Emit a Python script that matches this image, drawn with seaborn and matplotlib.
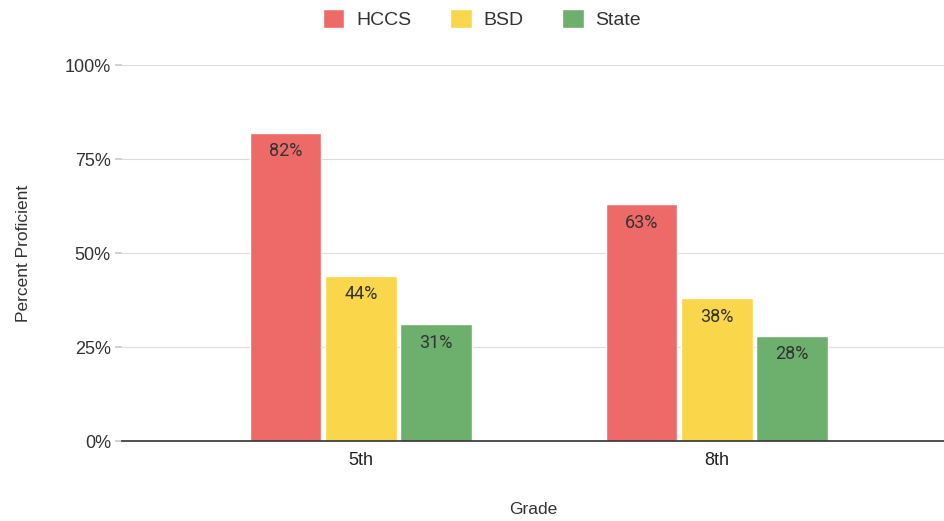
import matplotlib
matplotlib.use("Agg")
import matplotlib.pyplot as plt
import seaborn as sns
import pandas as pd
from matplotlib.ticker import FuncFormatter

grades = ["5th", "8th"]
hccs = [82, 63]
bsd = [44, 38]
state = [31, 28]
series_names = ["HCCS", "BSD", "State"]
yticks = [0, 25, 50, 75, 100]

colors = {"HCCS": "#EE6A69", "BSD": "#F9D64A", "State": "#6DAF6D"}

rows = []
for name, vals in zip(series_names, [hccs, bsd, state]):
    for g, v in zip(grades, vals):
        rows.append({"Grade": g, "Series": name, "Value": v})
df = pd.DataFrame(rows)

sns.set_theme(style="white")
plt.rcParams['font.family'] = ['Liberation Sans', 'DejaVu Sans']

fig = plt.figure(figsize=(9.44, 5.21), dpi=100)
ax = fig.add_axes([122/944, 1-441/521, 1-122/944, (441-65)/521])

sns.barplot(data=df, x="Grade", y="Value", hue="Series", order=grades,
            hue_order=series_names, palette=colors, width=0.634, gap=0.05,
            ax=ax, legend=True, saturation=1)

for cont in ax.containers:
    for bar in cont:
        h = bar.get_height()
        ax.text(bar.get_x() + bar.get_width()/2, h - 2.6, f"{h:.0f}%",
                ha="center", va="top", fontsize=13, color="#333333",
                family=['Roboto', 'DejaVu Sans'])

ax.set_xlim(-0.671, 1.638)
ax.set_ylim(0, 100)
ax.set_yticks(yticks)
ax.yaxis.set_major_formatter(FuncFormatter(lambda v, p: f"{v:.0f}%"))
ax.grid(axis="y", color="#DDDDDD", linewidth=0.8)
ax.set_axisbelow(True)
for s in ["top", "right", "left"]:
    ax.spines[s].set_visible(False)
ax.spines["bottom"].set_color("#333333")
ax.spines["bottom"].set_linewidth(1.2)
ax.tick_params(axis="y", length=5, color="#CCCCCC", labelsize=13, labelcolor="#333333", pad=3, left=True)
ax.tick_params(axis="x", length=0, labelsize=13, labelcolor="#222222", pad=8)
ax.set_ylabel("Percent Proficient", fontsize=12.5, color="#333333", labelpad=24)
ax.set_xlabel("Grade", fontsize=12.5, color="#333333", labelpad=24)

ax.get_legend().remove()
handles, labels = ax.get_legend_handles_labels()
leg = fig.legend(handles, labels, loc="center", bbox_to_anchor=(482/944, 1-19/521),
                 ncol=3, frameon=False, fontsize=14, handlelength=1.1, handleheight=1.1,
                 columnspacing=2.0, handletextpad=0.6)
for t in leg.get_texts():
    t.set_color("#333333")

fig.savefig("out.png", dpi=100)
